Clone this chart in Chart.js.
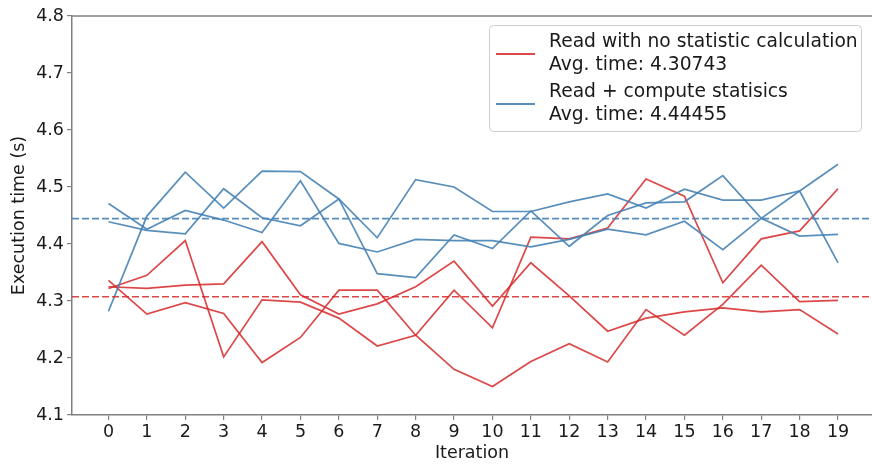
<!DOCTYPE html>
<html>
<head>
<meta charset="utf-8">
<script src="https://cdn.jsdelivr.net/npm/chart.js@4.4.1/dist/chart.umd.min.js"></script>
<style>
  html, body { margin: 0; padding: 0; background: #ffffff; overflow: hidden; }
  #chart { display: block; }
</style>
</head>
<body>
<canvas id="chart" width="872" height="464"></canvas>
<script>
// Iterations on the x axis
const iterations = [0, 1, 2, 3, 4, 5, 6, 7, 8, 9, 10, 11, 12, 13, 14, 15, 16, 17, 18, 19];
const yTicks = [4.1, 4.2, 4.3, 4.4, 4.5, 4.6, 4.7, 4.8];

// Read with no statistic calculation (three runs)
const readRun1 = [4.336, 4.277, 4.297, 4.278, 4.192, 4.236, 4.319, 4.319, 4.240, 4.180,
                  4.150, 4.194, 4.225, 4.193, 4.285, 4.240, 4.294, 4.363, 4.299, 4.301];
const readRun2 = [4.322, 4.345, 4.406, 4.202, 4.302, 4.298, 4.270, 4.221, 4.240, 4.319,
                  4.253, 4.412, 4.409, 4.428, 4.514, 4.484, 4.332, 4.409, 4.423, 4.497];
const readRun3 = [4.325, 4.322, 4.328, 4.330, 4.404, 4.311, 4.277, 4.295, 4.325, 4.370,
                  4.291, 4.367, 4.309, 4.247, 4.270, 4.281, 4.288, 4.281, 4.285, 4.242];
const readAvg = 4.30743;

// Read + compute statistics (three runs)
const statsRun1 = [4.282, 4.449, 4.526, 4.463, 4.528, 4.527, 4.479, 4.411, 4.513, 4.500,
                   4.457, 4.457, 4.474, 4.488, 4.463, 4.496, 4.477, 4.477, 4.493, 4.367];
const statsRun2 = [4.471, 4.426, 4.459, 4.442, 4.420, 4.511, 4.401, 4.386, 4.408, 4.406,
                   4.406, 4.395, 4.408, 4.426, 4.416, 4.440, 4.390, 4.445, 4.493, 4.540];
const statsRun3 = [4.439, 4.424, 4.418, 4.497, 4.446, 4.432, 4.479, 4.348, 4.341, 4.416,
                   4.392, 4.458, 4.396, 4.450, 4.472, 4.474, 4.520, 4.445, 4.414, 4.417];
const statsAvg = 4.44455;

const legendLabels = [
    ['Read with no statistic calculation', 'Avg. time: 4.30743'],
    ['Read + compute statisics', 'Avg. time: 4.44455'],
];

const RED = 'rgba(214, 39, 40, 0.85)';
const BLUE = 'rgba(70, 130, 180, 0.9)';
const SPINE = '#808080';
const TEXT = '#1a1a1a';
const FONT = 'DejaVu Sans';
const FSIZE = 17.5;
const LEGEND_FSIZE = 18.7;

// matplotlib-like 5% margin on the x axis (right side cropped by the figure)
const xMin = -0.95;
const xMax = 19.885;

const toPoints = arr => arr.map((v, i) => ({ x: iterations[i], y: v }));
const runLine = (arr, color) => ({
    data: toPoints(arr),
    borderColor: color,
    borderWidth: 1.7,
    pointRadius: 0,
    tension: 0,
    fill: false,
});
const avgLine = (v, color) => ({
    data: [{ x: xMin, y: v }, { x: xMax, y: v }],
    borderColor: color,
    borderWidth: 1.7,
    borderDash: [7, 3],
    pointRadius: 0,
    fill: false,
});

// Top spine + legend box, drawn on top of the chart
const decorations = {
    id: 'decorations',
    afterDraw(chart) {
        const { ctx, chartArea } = chart;
        ctx.save();
        ctx.strokeStyle = SPINE;
        ctx.lineWidth = 1.5;
        ctx.beginPath();
        ctx.moveTo(chartArea.left, chartArea.top);
        ctx.lineTo(chartArea.right, chartArea.top);
        ctx.stroke();

        // legend
        const bx = 489.5, by = 25.5, bw = 372, bh = 106;
        ctx.fillStyle = 'rgba(255,255,255,0.85)';
        ctx.strokeStyle = '#cccccc';
        ctx.lineWidth = 1;
        ctx.beginPath();
        ctx.roundRect(bx, by, bw, bh, 4);
        ctx.fill();
        ctx.stroke();

        const colors = [RED, BLUE];
        const sampleY = [54, 104];
        const baselines = [[47, 70], [97, 120]];
        ctx.font = `${LEGEND_FSIZE}px "${FONT}"`;
        ctx.textAlign = 'left';
        ctx.textBaseline = 'alphabetic';
        legendLabels.forEach((lines, i) => {
            ctx.strokeStyle = colors[i];
            ctx.lineWidth = 2.2;
            ctx.beginPath();
            ctx.moveTo(496, sampleY[i]);
            ctx.lineTo(535, sampleY[i]);
            ctx.stroke();
            ctx.fillStyle = TEXT;
            lines.forEach((t, j) => ctx.fillText(t, 549, baselines[i][j]));
        });
        ctx.restore();
    }
};

new Chart(document.getElementById('chart'), {
    type: 'line',
    data: {
        datasets: [
            avgLine(statsAvg, BLUE),
            avgLine(readAvg, RED),
            runLine(statsRun1, BLUE),
            runLine(statsRun2, BLUE),
            runLine(statsRun3, BLUE),
            runLine(readRun1, RED),
            runLine(readRun2, RED),
            runLine(readRun3, RED),
        ]
    },
    options: {
        responsive: false,
        animation: false,
        devicePixelRatio: 1,
        layout: { padding: { top: 16, right: 0, bottom: 0, left: 0 } },
        plugins: {
            legend: { display: false },
            tooltip: { enabled: false },
        },
        scales: {
            x: {
                type: 'linear',
                min: xMin,
                max: xMax,
                afterBuildTicks: s => { s.ticks = iterations.map(v => ({ value: v })); },
                afterFit: s => { s.height = 49; },
                ticks: {
                    callback: v => String(v),
                    color: TEXT,
                    font: { family: FONT, size: FSIZE },
                    padding: 2,
                    maxRotation: 0,
                    autoSkip: false,
                },
                grid: { drawOnChartArea: false, drawTicks: true, tickLength: 5, color: SPINE, lineWidth: 1.2 },
                border: { display: true, color: SPINE, width: 1.5 },
                title: {
                    display: true,
                    text: 'Iteration',
                    color: TEXT,
                    font: { family: FONT, size: FSIZE, lineHeight: 1.2 },
                    padding: { top: 0, bottom: 0 },
                },
            },
            y: {
                min: 4.1,
                max: 4.8,
                afterBuildTicks: s => { s.ticks = yTicks.map(v => ({ value: v })); },
                afterFit: s => { s.width = 72; },
                ticks: {
                    callback: v => v.toFixed(1),
                    color: TEXT,
                    font: { family: FONT, size: FSIZE },
                    padding: 3,
                },
                grid: { drawOnChartArea: false, drawTicks: true, tickLength: 5, color: SPINE, lineWidth: 1.2 },
                border: { display: true, color: SPINE, width: 1.5 },
                title: {
                    display: true,
                    text: 'Execution time (s)',
                    color: TEXT,
                    font: { family: FONT, size: FSIZE, lineHeight: 1.2 },
                    padding: { top: 9, bottom: 0 },
                },
            },
        },
    },
    plugins: [decorations],
});
</script>
</body>
</html>
